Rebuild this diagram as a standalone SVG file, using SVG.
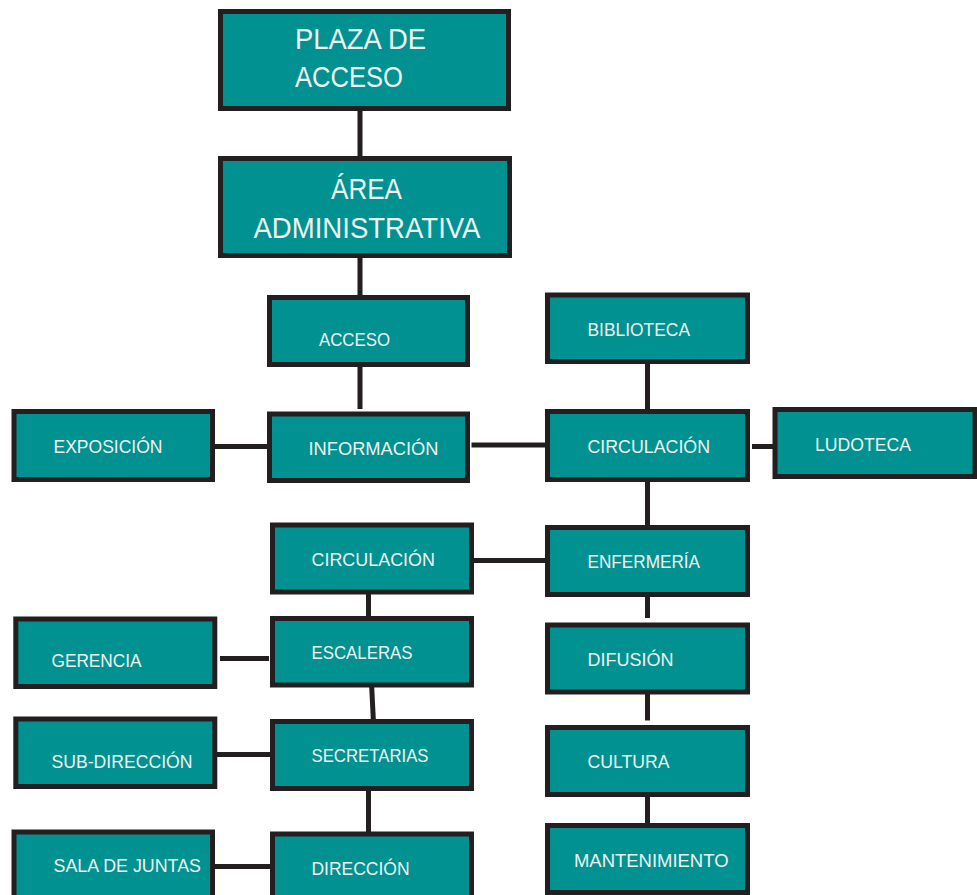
<svg xmlns="http://www.w3.org/2000/svg" width="977" height="895" viewBox="0 0 977 895">
<style>
.box{fill:#009190;stroke:#231F20;stroke-width:5}
.t{fill:#EEF3F2;font-family:"Liberation Sans",Arial,sans-serif;font-size:18.5px}
.b{fill:#EEF3F2;font-family:"Liberation Sans",Arial,sans-serif;font-size:29px}
.c{stroke:#231F20;stroke-width:5;fill:none}
</style>
<rect width="977" height="895" fill="#ffffff"/>
<g id="connectors">
<line class="c" x1="360" y1="111" x2="360" y2="156"/>
<line class="c" x1="360" y1="258" x2="360" y2="295"/>
<line class="c" x1="360" y1="367" x2="360" y2="409"/>
<line class="c" x1="215" y1="446.5" x2="267" y2="446.5"/>
<line class="c" x1="471.5" y1="445" x2="545" y2="445"/>
<line class="c" x1="647.5" y1="364" x2="647.5" y2="409"/>
<line class="c" x1="752" y1="446.5" x2="773" y2="446.5"/>
<line class="c" x1="647.5" y1="481.5" x2="647.5" y2="525"/>
<line class="c" x1="474" y1="560.5" x2="545" y2="560.5"/>
<line class="c" x1="647.5" y1="596.5" x2="647.5" y2="618"/>
<line class="c" x1="647.5" y1="694" x2="647.5" y2="720.5"/>
<line class="c" x1="647.5" y1="797" x2="647.5" y2="823"/>
<line class="c" x1="368.5" y1="594" x2="368.5" y2="616"/>
<line class="c" x1="220" y1="658.5" x2="269" y2="658.5"/>
<line class="c" x1="371.7" y1="687" x2="373.3" y2="719"/>
<line class="c" x1="217" y1="754.5" x2="270" y2="754.5"/>
<line class="c" x1="368.5" y1="790" x2="368.5" y2="832"/>
<line class="c" x1="215" y1="866.5" x2="270" y2="866.5"/>
</g>
<g id="plaza"><rect class="box" x="220.5" y="11.5" width="288" height="97"/>
<text class="b" x="295" y="49" textLength="131" lengthAdjust="spacingAndGlyphs">PLAZA DE</text>
<text class="b" x="295" y="87" textLength="108" lengthAdjust="spacingAndGlyphs">ACCESO</text></g>
<g id="area"><rect class="box" x="220.5" y="158.5" width="289" height="97"/>
<text class="b" x="331" y="199" textLength="71" lengthAdjust="spacingAndGlyphs">ÁREA</text>
<text class="b" x="253.5" y="238" textLength="227" lengthAdjust="spacingAndGlyphs">ADMINISTRATIVA</text></g>
<g id="acceso"><rect class="box" x="269.5" y="297.5" width="198" height="67"/>
<text class="t" x="319" y="345.5" textLength="71" lengthAdjust="spacingAndGlyphs">ACCESO</text></g>
<g id="informacion"><rect class="box" x="269.5" y="414" width="198" height="66.5"/>
<text class="t" x="308.5" y="455" textLength="130" lengthAdjust="spacingAndGlyphs">INFORMACIÓN</text></g>
<g id="exposicion"><rect class="box" x="14" y="411.5" width="198.5" height="68"/>
<text class="t" x="53.5" y="452.5" textLength="109" lengthAdjust="spacingAndGlyphs">EXPOSICIÓN</text></g>
<g id="biblioteca"><rect class="box" x="547.5" y="295" width="200" height="66.5"/>
<text class="t" x="587.5" y="336" textLength="102.5" lengthAdjust="spacingAndGlyphs">BIBLIOTECA</text></g>
<g id="circulacion-der"><rect class="box" x="547.5" y="411.5" width="200" height="68"/>
<text class="t" x="587.5" y="452.5" textLength="122.5" lengthAdjust="spacingAndGlyphs">CIRCULACIÓN</text></g>
<g id="ludoteca"><rect class="box" x="775" y="409.5" width="200" height="67"/>
<text class="t" x="815" y="450.5" textLength="96" lengthAdjust="spacingAndGlyphs">LUDOTECA</text></g>
<g id="circulacion-izq"><rect class="box" x="272.5" y="525" width="199" height="67"/>
<text class="t" x="311.5" y="566" textLength="123.5" lengthAdjust="spacingAndGlyphs">CIRCULACIÓN</text></g>
<g id="escaleras"><rect class="box" x="272.5" y="618.5" width="199" height="66.5"/>
<text class="t" x="311.5" y="659" textLength="101" lengthAdjust="spacingAndGlyphs">ESCALERAS</text></g>
<g id="gerencia"><rect class="box" x="15.8" y="619" width="199" height="67.5"/>
<text class="t" x="51.5" y="666.5" textLength="90" lengthAdjust="spacingAndGlyphs">GERENCIA</text></g>
<g id="secretarias"><rect class="box" x="272.5" y="721.5" width="199" height="67"/>
<text class="t" x="311.5" y="761.5" textLength="117" lengthAdjust="spacingAndGlyphs">SECRETARIAS</text></g>
<g id="subdireccion"><rect class="box" x="15.8" y="719" width="199" height="67.5"/>
<text class="t" x="51.5" y="768" textLength="141" lengthAdjust="spacingAndGlyphs">SUB-DIRECCIÓN</text></g>
<g id="direccion"><rect class="box" x="272.5" y="834" width="199" height="67"/>
<text class="t" x="311.5" y="875" textLength="98" lengthAdjust="spacingAndGlyphs">DIRECCIÓN</text></g>
<g id="sala"><rect class="box" x="14" y="832" width="198.5" height="68"/>
<text class="t" x="53.5" y="871.5" textLength="147.5" lengthAdjust="spacingAndGlyphs">SALA DE JUNTAS</text></g>
<g id="enfermeria"><rect class="box" x="547.5" y="527.5" width="200" height="67"/>
<text class="t" x="587.5" y="568" textLength="112.5" lengthAdjust="spacingAndGlyphs">ENFERMERÍA</text></g>
<g id="difusion"><rect class="box" x="547.5" y="625" width="200" height="67"/>
<text class="t" x="587.5" y="666" textLength="86" lengthAdjust="spacingAndGlyphs">DIFUSIÓN</text></g>
<g id="cultura"><rect class="box" x="547.5" y="727.5" width="200" height="67"/>
<text class="t" x="587.5" y="768" textLength="82" lengthAdjust="spacingAndGlyphs">CULTURA</text></g>
<g id="mantenimiento"><rect class="box" x="547.5" y="825.5" width="200" height="67"/>
<text class="t" x="574" y="866.5" textLength="154.5" lengthAdjust="spacingAndGlyphs">MANTENIMIENTO</text></g>
</svg>
